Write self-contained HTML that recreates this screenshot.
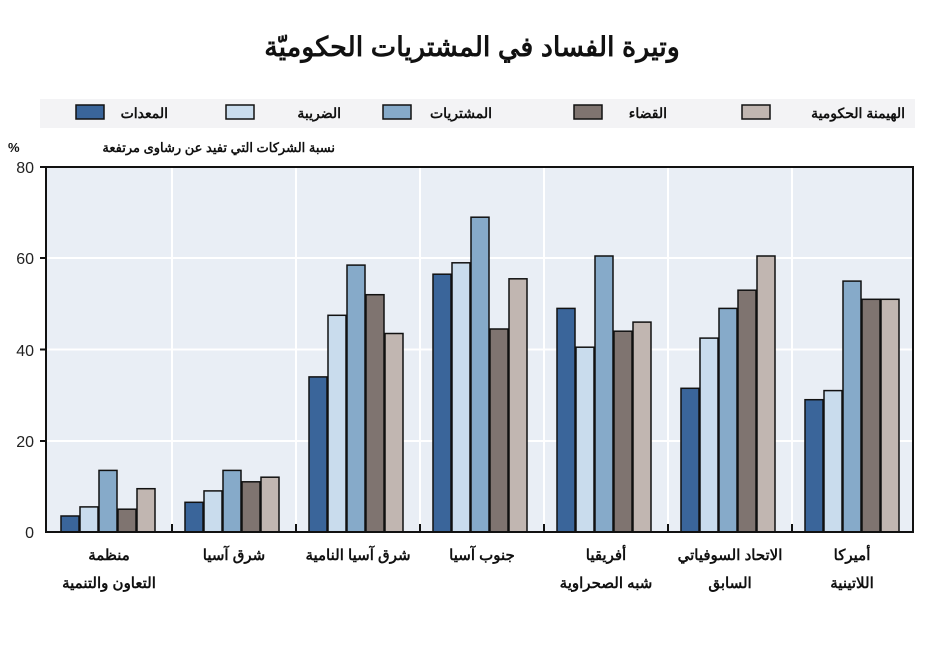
<!DOCTYPE html>
<html><head><meta charset="utf-8"><style>
body{margin:0;background:#fff;}
svg text{font-family:"Liberation Sans","Noto Sans CJK SC",sans-serif;}
</style></head><body>
<svg width="945" height="647" viewBox="0 0 945 647" xmlns="http://www.w3.org/2000/svg">
<rect width="945" height="647" fill="#fff"/>
<text x="472" y="56" text-anchor="middle" font-size="27" font-weight="bold" fill="#111">وتيرة الفساد في المشتريات الحكوميّة</text>
<rect x="40" y="99" width="875" height="29" fill="#f3f3f5"/>
<g font-size="14" font-weight="bold" fill="#111" text-anchor="end">
<rect x="76" y="105" width="28" height="14" fill="#3a659a" stroke="#111" stroke-width="1.5"/><text x="168" y="118">المعدات</text>
<rect x="226" y="105" width="28" height="14" fill="#c9dced" stroke="#111" stroke-width="1.5"/><text x="341" y="118">الضريبة</text>
<rect x="383" y="105" width="28" height="14" fill="#86aac9" stroke="#111" stroke-width="1.5"/><text x="492" y="118">المشتريات</text>
<rect x="574" y="105" width="28" height="14" fill="#7f7470" stroke="#111" stroke-width="1.5"/><text x="667" y="118">القضاء</text>
<rect x="742" y="105" width="28" height="14" fill="#c1b6b1" stroke="#111" stroke-width="1.5"/><text x="905" y="118">الهيمنة الحكومية</text>
</g>
<text x="335" y="152" text-anchor="end" font-size="13" font-weight="bold" fill="#111">نسبة الشركات التي تفيد عن رشاوى مرتفعة</text>
<text x="8" y="152" font-size="13" font-weight="bold" fill="#111">%</text>
<rect x="46" y="167" width="867" height="365" fill="#e9eef5"/>
<g stroke="#fff" stroke-width="2">
<line x1="46" y1="258" x2="913" y2="258"/><line x1="46" y1="349.5" x2="913" y2="349.5"/><line x1="46" y1="441" x2="913" y2="441"/>
<line x1="172" y1="167" x2="172" y2="532"/><line x1="296" y1="167" x2="296" y2="532"/><line x1="420" y1="167" x2="420" y2="532"/><line x1="544" y1="167" x2="544" y2="532"/><line x1="668" y1="167" x2="668" y2="532"/><line x1="792" y1="167" x2="792" y2="532"/>
</g>
<g stroke="#111" stroke-width="1.5">
<rect x="61" y="516" width="18" height="16" fill="#3a659a"/><rect x="80" y="506.9" width="18" height="25.1" fill="#c9dced"/><rect x="99" y="470.4" width="18" height="61.6" fill="#86aac9"/><rect x="118" y="509.2" width="18" height="22.8" fill="#7f7470"/><rect x="137" y="488.7" width="18" height="43.3" fill="#c1b6b1"/>
<rect x="185" y="502.3" width="18" height="29.7" fill="#3a659a"/><rect x="204" y="490.9" width="18" height="41.1" fill="#c9dced"/><rect x="223" y="470.4" width="18" height="61.6" fill="#86aac9"/><rect x="242" y="481.8" width="18" height="50.2" fill="#7f7470"/><rect x="261" y="477.2" width="18" height="54.8" fill="#c1b6b1"/>
<rect x="309" y="376.9" width="18" height="155.1" fill="#3a659a"/><rect x="328" y="315.3" width="18" height="216.7" fill="#c9dced"/><rect x="347" y="265.1" width="18" height="266.9" fill="#86aac9"/><rect x="366" y="294.7" width="18" height="237.3" fill="#7f7470"/><rect x="385" y="333.5" width="18" height="198.5" fill="#c1b6b1"/>
<rect x="433" y="274.2" width="18" height="257.8" fill="#3a659a"/><rect x="452" y="262.8" width="18" height="269.2" fill="#c9dced"/><rect x="471" y="217.2" width="18" height="314.8" fill="#86aac9"/><rect x="490" y="329" width="18" height="203" fill="#7f7470"/><rect x="509" y="278.8" width="18" height="253.2" fill="#c1b6b1"/>
<rect x="557" y="308.4" width="18" height="223.6" fill="#3a659a"/><rect x="576" y="347.2" width="18" height="184.8" fill="#c9dced"/><rect x="595" y="256" width="18" height="276" fill="#86aac9"/><rect x="614" y="331.2" width="18" height="200.8" fill="#7f7470"/><rect x="633" y="322.1" width="18" height="209.9" fill="#c1b6b1"/>
<rect x="681" y="388.3" width="18" height="143.7" fill="#3a659a"/><rect x="700" y="338.1" width="18" height="193.9" fill="#c9dced"/><rect x="719" y="308.4" width="18" height="223.6" fill="#86aac9"/><rect x="738" y="290.2" width="18" height="241.8" fill="#7f7470"/><rect x="757" y="256" width="18" height="276" fill="#c1b6b1"/>
<rect x="805" y="399.7" width="18" height="132.3" fill="#3a659a"/><rect x="824" y="390.6" width="18" height="141.4" fill="#c9dced"/><rect x="843" y="281.1" width="18" height="250.9" fill="#86aac9"/><rect x="862" y="299.3" width="18" height="232.7" fill="#7f7470"/><rect x="881" y="299.3" width="18" height="232.7" fill="#c1b6b1"/>
</g>
<rect x="46" y="167" width="867" height="365" fill="none" stroke="#111" stroke-width="2"/>
<g stroke="#111" stroke-width="2">
<line x1="40" y1="167" x2="46" y2="167"/><line x1="40" y1="258" x2="46" y2="258"/><line x1="40" y1="349.5" x2="46" y2="349.5"/><line x1="40" y1="441" x2="46" y2="441"/>
<line x1="172" y1="524" x2="172" y2="532"/><line x1="296" y1="524" x2="296" y2="532"/><line x1="420" y1="524" x2="420" y2="532"/><line x1="544" y1="524" x2="544" y2="532"/><line x1="668" y1="524" x2="668" y2="532"/><line x1="792" y1="524" x2="792" y2="532"/>
</g>
<g font-size="16" fill="#222" text-anchor="end">
<text x="34" y="173">80</text><text x="34" y="264">60</text><text x="34" y="356">40</text><text x="34" y="447">20</text><text x="34" y="538">0</text>
</g>
<g font-size="15" font-weight="bold" fill="#111" text-anchor="middle">
<text x="109" y="560">منظمة</text><text x="109" y="588">التعاون والتنمية</text>
<text x="234" y="560">شرق آسيا</text>
<text x="358" y="560">شرق آسيا النامية</text>
<text x="482" y="560">جنوب آسيا</text>
<text x="606" y="560">أفريقيا</text><text x="606" y="588">شبه الصحراوية</text>
<text x="730" y="560">الاتحاد السوفياتي</text><text x="730" y="588">السابق</text>
<text x="852" y="560">أميركا</text><text x="852" y="588">اللاتينية</text>
</g>
</svg>
</body></html>
